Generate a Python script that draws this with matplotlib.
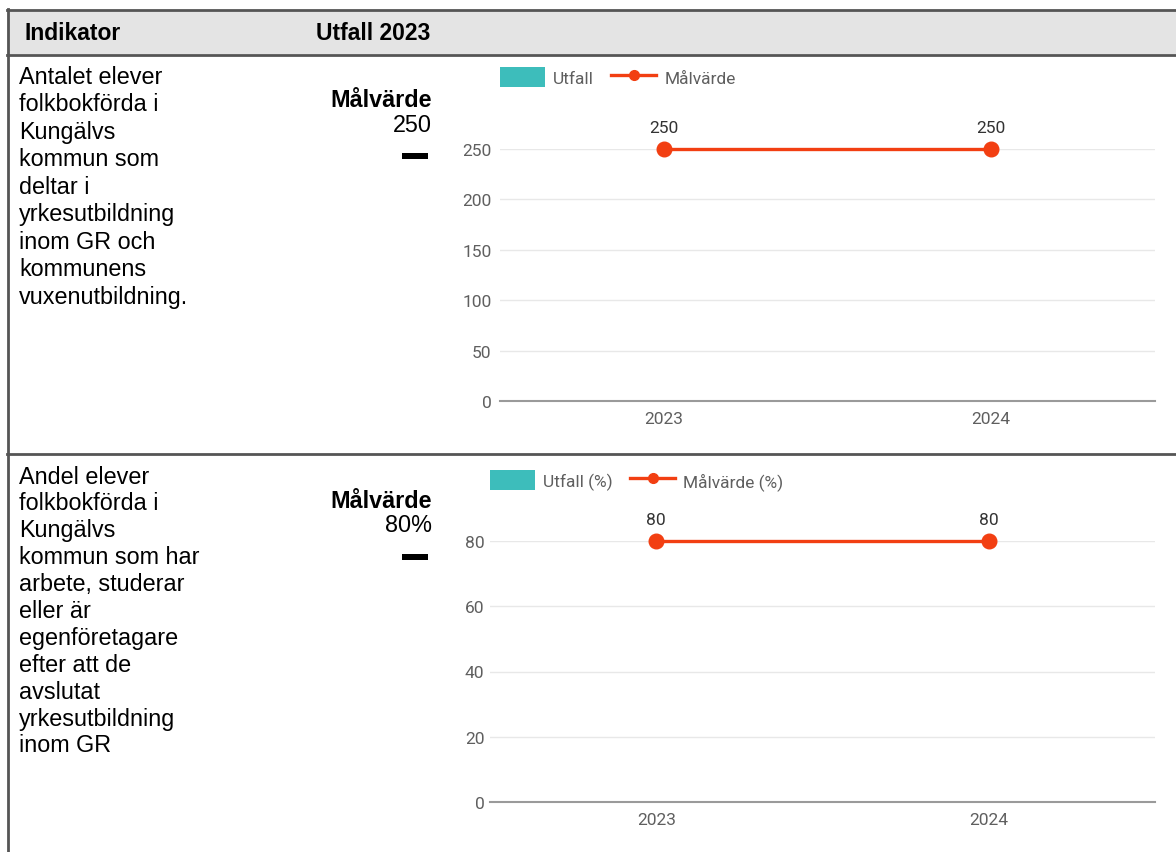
import numpy as np
import matplotlib
matplotlib.use("Agg")
import matplotlib.pyplot as plt
from matplotlib.lines import Line2D
from matplotlib.patches import Patch, Rectangle

# data
years = ["2023", "2024"]
outcome_count = [np.nan, np.nan]      # no outcome reported yet
target_count = [250, 250]
outcome_share = [np.nan, np.nan]
target_share = [80, 80]

count_ticks = [0, 50, 100, 150, 200, 250]
share_ticks = [0, 20, 40, 60, 80]

row1_lines = ["Antalet elever", "folkbokförda i", "Kungälvs", "kommun som",
              "deltar i", "yrkesutbildning", "inom GR och", "kommunens",
              "vuxenutbildning."]
row2_lines = ["Andel elever", "folkbokförda i", "Kungälvs", "kommun som har",
              "arbete, studerar", "eller är", "egenföretagare", "efter att de",
              "avslutat", "yrkesutbildning", "inom GR"]

TEAL = "#3dbdbb"
RED = "#f23f12"
GRID = "#e8e8e8"
TICK = "#5f5f5f"
CHART_FS = 12.5
W, H = 1176, 853

fig = plt.figure(figsize=(W / 100, H / 100), dpi=100)

# background layer in pixel coordinates for the table
bg = fig.add_axes([0, 0, 1, 1])
bg.set_xlim(0, W)
bg.set_ylim(H, 0)
bg.axis("off")

bg.add_patch(Rectangle((7, 11), W - 7, 44, facecolor="#e4e4e4", edgecolor="none"))
for y in (11, 56, 455):
    bg.plot([7, W], [y, y], color="#555555", lw=2)
bg.plot([8, 8], [10, H], color="#555555", lw=2)

text_font = ["Liberation Sans", "DejaVu Sans"]
bg.text(25, 33, "Indikator", fontsize=16.5, fontweight="bold", va="center", family=text_font)
bg.text(316, 33, "Utfall 2023", fontsize=16.5, fontweight="bold", va="center", family=text_font)

for lines, y0, step in ((row1_lines, 77, 27.5), (row2_lines, 477, 26.9)):
    for i, line in enumerate(lines):
        bg.text(19, y0 + i * step, line, fontsize=16.8, va="center", family=text_font)

for y0, value in ((100, "250"), (501, "80%")):
    bg.text(432, y0, "Målvärde", fontsize=16.8, fontweight="bold", ha="right",
            va="center", family=text_font)
    bg.text(432, y0 + 25, value, fontsize=16.8, ha="right", va="center", family=text_font)
    bg.add_patch(Rectangle((402, y0 + 54), 26, 6, facecolor="black"))


def add_chart(rect_px, outcome, target, ticks, labels, tick_pad, legend_gap):
    left, top, right, bottom = rect_px
    ax = fig.add_axes([left / W, 1 - bottom / H, (right - left) / W, (bottom - top) / H])
    x = np.arange(len(years))
    ax.bar(x, outcome, color=TEAL, width=0.5)
    ax.plot(x, target, color=RED, lw=2.4, marker="o", markersize=10.5, clip_on=False, zorder=4)
    for xi, v in zip(x, target):
        ax.annotate(f"{v}", (xi, v), xytext=(0, 15.5), textcoords="offset points",
                    ha="center", va="center", fontsize=CHART_FS, color="#333333",
                    family="Roboto")
    ax.set_xlim(-0.5, len(years) - 0.5)
    ax.set_ylim(0, ticks[-1])
    ax.set_yticks(ticks)
    ax.set_xticks(x)
    ax.set_xticklabels(years)
    ax.tick_params(axis="y", length=0, pad=tick_pad, labelsize=CHART_FS, labelcolor=TICK)
    ax.tick_params(axis="x", length=0, pad=7, labelsize=CHART_FS, labelcolor=TICK)
    for lab in ax.get_xticklabels() + ax.get_yticklabels():
        lab.set_family("Roboto")
    ax.grid(axis="y", color=GRID, lw=1)
    ax.set_axisbelow(True)
    for side in ("top", "right", "left"):
        ax.spines[side].set_visible(False)
    ax.spines["bottom"].set_color("#9a9a9a")
    ax.spines["bottom"].set_linewidth(1.5)
    ax.set_facecolor("none")
    handles = [Patch(facecolor=TEAL, edgecolor="none", label=labels[0]),
               Line2D([0], [0], color=RED, lw=2.4, marker="o", markersize=7, label=labels[1])]
    ax.legend(handles=handles, loc="center left", ncol=2, frameon=False,
              bbox_to_anchor=(0, 1 + legend_gap / (bottom - top)),
              borderaxespad=0, borderpad=0, handlelength=2.6, handleheight=1.4,
              handletextpad=0.45, columnspacing=1.0,
              prop={"family": "Roboto", "size": CHART_FS}, labelcolor=TICK)
    return ax


add_chart((500, 150, 1155, 402), outcome_count, target_count, count_ticks,
          ["Utfall", "Målvärde"], 6, 72)
add_chart((490, 542, 1155, 803), outcome_share, target_share, share_ticks,
          ["Utfall (%)", "Målvärde (%)"], 4, 61)

fig.savefig("out.png", dpi=100)
